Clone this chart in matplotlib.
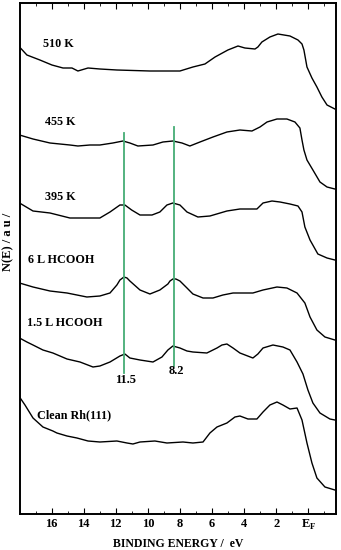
import matplotlib
matplotlib.use("Agg")
import matplotlib.pyplot as plt
from matplotlib.ticker import MultipleLocator, FixedLocator, FixedFormatter

plt.rcParams['font.family'] = ['Liberation Serif', 'DejaVu Serif']
plt.rcParams['font.weight'] = 'bold'
plt.rcParams['mathtext.fontset'] = 'custom'
plt.rcParams['mathtext.rm'] = 'Liberation Serif:bold'

# ---- data (binding energy in eV, N(E) in arbitrary stacked units) ----
e_510 = [18.0, 17.54, 16.73, 15.98, 15.29, 14.73, 14.36, 13.73, 12.99, 11.93, 9.87, 8.00, 7.19, 6.44, 5.81,
         5.01, 4.38, 3.95, 3.32, 3.14, 2.89, 2.39, 1.89, 1.14, 0.64, 0.39, 0.27, 0.08, -0.23, -0.54, -0.85,
         -1.17, -1.66]
n_510 = [503, 495, 490, 485, 482, 482, 479, 482, 481, 480, 479, 479, 483, 486, 493, 500, 504, 502, 501, 503,
         508, 513, 516, 514, 510, 506, 500, 483, 472, 463, 453, 445, 441]

e_455 = [18.0, 17.16, 16.10, 14.86, 14.36, 13.61, 12.99, 12.18, 11.55, 11.12, 10.62, 9.68, 9.06, 8.44, 7.87,
         7.38, 6.75, 5.94, 5.07, 4.26, 3.51, 3.01, 2.57, 1.95, 1.33, 0.83, 0.52, 0.39, 0.27, 0.08, -0.29,
         -0.73, -1.17, -1.66]
n_455 = [415, 411, 407, 405, 404, 405, 405, 407, 409, 407, 404, 405, 408, 409, 407, 404, 408, 413, 418, 420,
         419, 423, 428, 431, 431, 428, 422, 410, 400, 390, 380, 368, 363, 361]

e_395 = [18.0, 17.16, 16.10, 14.86, 14.04, 12.99, 12.36, 11.74, 11.43, 11.01, 10.49, 9.74, 9.25, 8.81, 8.44,
         8.00, 7.56, 6.88, 6.13, 5.07, 4.26, 3.63, 3.20, 2.82, 2.26, 1.76, 1.14, 0.64, 0.39, 0.21, -0.11,
         -0.60, -1.17, -1.66]
n_395 = [347, 339, 337, 332, 332, 332, 338, 345, 345, 340, 335, 335, 338, 345, 347, 345, 338, 333, 334, 339,
         341, 341, 341, 347, 349, 348, 346, 344, 338, 323, 310, 296, 292, 290]

e_6l = [18.0, 17.16, 16.10, 15.04, 13.80, 12.99, 12.36, 11.93, 11.74, 11.49, 11.30, 11.12, 10.49, 9.87, 9.25,
        8.75, 8.62, 8.44, 8.25, 8.00, 7.56, 7.19, 6.56, 5.94, 5.32, 4.69, 4.07, 3.45, 2.82, 1.95, 1.33, 0.70,
        0.21, -0.11, -0.54, -1.04, -1.66]
n_6l = [267, 263, 259, 257, 253, 254, 257, 265, 270, 273, 272, 269, 260, 256, 260, 266, 269, 271, 271, 269,
        262, 256, 252, 252, 255, 257, 257, 257, 260, 263, 262, 257, 247, 233, 220, 213, 210]

e_15l = [18.0, 17.54, 17.16, 16.54, 15.92, 15.04, 14.23, 13.42, 12.99, 12.36, 11.74, 11.43, 11.12, 10.49,
         9.68, 9.12, 8.75, 8.44, 8.00, 7.56, 7.19, 6.32, 5.69, 5.38, 5.07, 4.69, 4.26, 3.45, 3.14, 2.82,
         2.20, 1.58, 1.14, 0.70, 0.33, 0.02, -0.29, -0.73, -1.35, -1.66]
n_15l = [212, 208, 205, 200, 197, 191, 188, 183, 184, 188, 194, 196, 192, 190, 188, 193, 200, 204, 202, 199,
         198, 197, 202, 205, 206, 202, 197, 192, 196, 202, 205, 203, 200, 188, 176, 160, 147, 137, 131, 130]

e_clean = [18.0, 17.66, 17.16, 16.54, 15.92, 15.67, 15.04, 14.42, 13.73, 12.99, 11.93, 11.30, 10.93, 10.49,
           9.56, 8.81, 7.81, 7.19, 6.56, 6.13, 5.69, 5.07, 4.57, 4.26, 3.76, 3.20, 2.82, 2.39, 1.95, 1.58,
           1.14, 0.70, 0.39, 0.08, -0.23, -0.54, -1.04, -1.66]
n_clean = [153, 145, 132, 123, 119, 117, 114, 112, 109, 108, 109, 107, 106, 108, 109, 107, 108, 107, 108, 117,
           123, 127, 133, 134, 131, 131, 138, 145, 148, 145, 141, 142, 130, 107, 87, 72, 63, 60]

curve_labels = ["510 K", "455 K", "395 K", "6 L HCOOH", "1.5 L HCOOH", "Clean Rh(111)"]
label_pos_e = [16.54, 16.42, 16.42, 17.48, 17.54, 16.92]
label_pos_n = [506, 428, 353, 290, 227, 135]

peak_lines_e = [11.5, 8.4]
peak_lines_top = [417, 423]
peak_lines_bottom = [177, 184]
peak_labels = ["11.5", "8.2"]
peak_label_e = [11.36, 8.25]
peak_label_n = [170, 179]

tick_pos = [16, 14, 12, 10, 8, 6, 4, 2, 0]
tick_labels = ["16", "14", "12", "10", "8", "6", "4", "2", r"E$_\mathrm{F}$"]

# ---- figure ----
fig = plt.figure(figsize=(3.41, 5.5), dpi=100)
ax = fig.add_axes([20 / 341, 36 / 550, 316 / 341, 510.7 / 550])

for e, n in [(e_510, n_510), (e_455, n_455), (e_395, n_395), (e_6l, n_6l), (e_15l, n_15l),
             (e_clean, n_clean)]:
    ax.plot(e, n, color='black', lw=1.0, solid_joinstyle='round')

for x, y0, y1 in zip(peak_lines_e, peak_lines_bottom, peak_lines_top):
    ax.plot([x, x], [y0, y1], color='#45ad75', lw=1.3)

for t, x, y in zip(peak_labels, peak_label_e, peak_label_n):
    ax.text(x, y, t, ha='center', va='center', fontsize=9, fontweight='bold')

for t, x, y in zip(curve_labels, label_pos_e, label_pos_n):
    ax.text(x, y, t, ha='left', va='center', fontsize=8.7, fontweight='bold')

ax.set_xlim(17.97, -1.73)
ax.set_ylim(36, 546.7)
ax.set_yticks([])
ax.xaxis.set_major_locator(FixedLocator(tick_pos))
ax.xaxis.set_major_formatter(FixedFormatter(tick_labels))
ax.xaxis.set_minor_locator(MultipleLocator(1))
ax.tick_params(axis='x', which='both', direction='in', top=True, bottom=True)
ax.tick_params(axis='x', which='major', length=4, width=0.8, pad=3, labelsize=9)
ax.tick_params(axis='x', which='minor', length=2.5, width=0.6)
for lab in ax.get_xticklabels():
    lab.set_fontweight('bold')
for s in ax.spines.values():
    s.set_linewidth(1.4)

ax.set_xlabel("BINDING ENERGY /  eV", fontsize=8.5, fontweight='bold', labelpad=4)
fig.text(8 / 341, 1 - 242 / 550, "N(E) / a u /", rotation=90, ha='center', va='center',
         fontsize=9, fontweight='bold')

fig.savefig("out.png", dpi=100)
